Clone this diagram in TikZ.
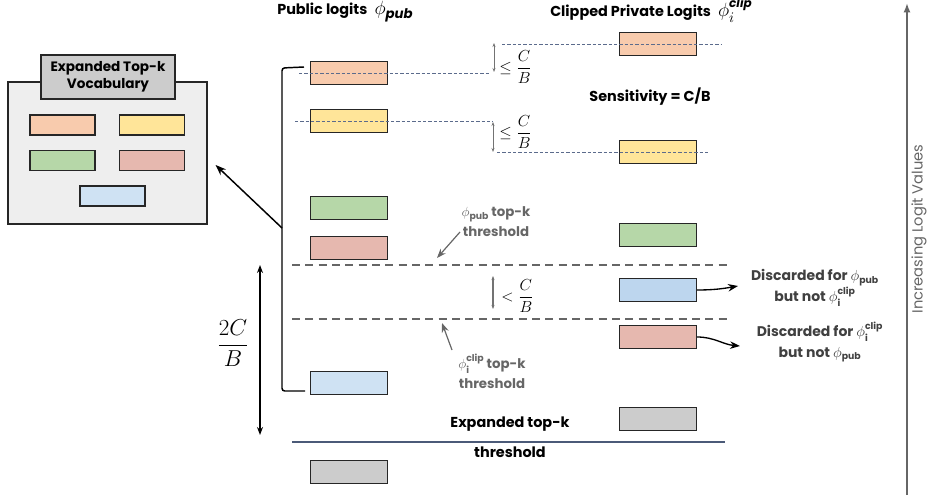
\documentclass[tikz,border=0pt]{standalone}
\usepackage{fontspec}
\setmainfont{Poppins}
\usepackage{xcolor}
\usepackage{tikz}
\usetikzlibrary{arrows.meta, positioning}

\definecolor{logitorange}{HTML}{F8CBAD}
\definecolor{logityellow}{HTML}{FFE599}
\definecolor{logitgreen}{HTML}{B6D7A8}
\definecolor{logitred}{HTML}{E6B8AF}
\definecolor{logitblue}{HTML}{CFE2F3}
\definecolor{logitblue2}{HTML}{BDD6EE}
\definecolor{logitgray}{HTML}{CCCCCC}
\definecolor{panelgray}{HTML}{EEEEEE}
\definecolor{guideblue}{HTML}{5B6B8C}
\definecolor{slateline}{HTML}{4B5A78}

\begin{document}
\begin{tikzpicture}[x=0.75pt, y=-0.75pt, font=\fontsize{10.8}{13}\selectfont\bfseries]

    % Define style for boxes
    \tikzstyle{logit} = [rectangle, minimum width=57.75pt, minimum height=17.25pt, inner sep=0pt, draw=black!85, line width=0.9pt]
    \tikzstyle{vocab} = [rectangle, minimum width=48.75pt, minimum height=15pt, inner sep=0pt, draw=black!85, line width=0.9pt]
    \tikzstyle{guide} = [draw=guideblue, dash pattern=on 2.5pt off 1.5pt, line width=0.5pt]
    \tikzstyle{cutline} = [draw=black!60, dash pattern=on 6pt off 4pt, line width=1.1pt]
    \tikzstyle{gap} = [draw=black!55, {Stealth[length=3pt]}-{Stealth[length=3pt]}, line width=0.5pt]
    \tikzstyle{note} = [text=black!60, align=center, inner sep=1pt, font=\fontsize{10}{15}\selectfont\bfseries]
    \tikzstyle{discard} = [text=black!75, align=center, inner sep=0pt, font=\fontsize{10.5}{15.5}\selectfont\bfseries]
    \tikzstyle{maths} = [font=\fontsize{13}{15}\selectfont, inner sep=0pt]

    \useasboundingbox (0,0) rectangle (928,499);

    % Headings
    \node (pubtitle) [anchor=base west, inner sep=0pt] at (277,15)
        {Public logits\enspace{\fontsize{15}{15}\selectfont$\phi_{\mbox{\fontsize{10}{10}\selectfont\bfseries\itshape pub}}$}};
    \node (privtitle) [anchor=base west, inner sep=0pt] at (550,17)
        {Clipped Private Logits\enspace{\fontsize{15}{15}\selectfont$\phi_i^{\mbox{\fontsize{9}{9}\selectfont\bfseries\itshape clip}}$}};

    % Expanded vocabulary panel
    \node (vocabbox) [rectangle, draw=black!85, fill=panelgray, line width=0.9pt, minimum width=149.25pt, minimum height=106.5pt] at (107.5,153) {};
    \node (vocabtab) [rectangle, draw=black!85, fill=logitgray, line width=0.9pt, minimum width=100.5pt, minimum height=33pt, align=center, inner sep=0pt, font=\fontsize{10.2}{12.5}\selectfont\bfseries] at (108,77) {Expanded Top-k\\Vocabulary};
    \node (vorange) [vocab, fill=logitorange] at (62.5,125) {};
    \node (vyellow) [vocab, fill=logityellow] at (152,125) {};
    \node (vgreen)  [vocab, fill=logitgreen]  at (62.5,160.5) {};
    \node (vred)    [vocab, fill=logitred]    at (152,160.5) {};
    \node (vblue)   [vocab, fill=logitblue]   at (112.5,196) {};

    % Public logits
    \node (puborange) [logit, fill=logitorange] at (349,73) {};
    \node (pubyellow) [logit, fill=logityellow] at (349,121) {};
    \node (pubgreen)  [logit, fill=logitgreen]  at (349,208) {};
    \node (pubred)    [logit, fill=logitred]    at (349,248) {};
    \node (pubblue)   [logit, fill=logitblue]   at (349,383) {};
    \node (pubgray)   [logit, fill=logitgray]   at (349,472) {};

    % Clipped private logits
    \node (privorange) [logit, fill=logitorange] at (658,44) {};
    \node (privyellow) [logit, fill=logityellow] at (658,152) {};
    \node (privgreen)  [logit, fill=logitgreen]  at (658,235) {};
    \node (privblue)   [logit, fill=logitblue2]  at (658,290) {};
    \node (privred)    [logit, fill=logitred]    at (658,337) {};
    \node (privgray)   [logit, fill=logitgray]   at (658,419) {};

    % Guide lines
    \draw[guide] (299,73) -- (490,73);
    \draw[guide] (502,44) -- (722,44);
    \draw[guide] (295,121) -- (493,121);
    \draw[guide] (497,152) -- (708,152);

    % Sensitivity gaps
    \coordinate (gaptop1) at (494,43);
    \coordinate (gapbot1) at (494,72);
    \coordinate (gaptop2) at (493,122);
    \coordinate (gapbot2) at (493,152);
    \coordinate (gaptop3) at (493,276);
    \coordinate (gapbot3) at (493,309);
    \draw[gap] (gaptop1) -- (gapbot1);
    \draw[gap] (gaptop2) -- (gapbot2);
    \draw[gap, line width=0.8pt] (gaptop3) -- (gapbot3);
    \node (le1) [maths, anchor=west] at (499,67) {$\leq\displaystyle\frac{C}{B}$};
    \node (le2) [maths, anchor=west] at (499,132) {$\leq\displaystyle\frac{C}{B}$};
    \node (lt3) [maths, anchor=west] at (501,296) {$<\displaystyle\frac{C}{B}$};
    \node (sens) at (650,97) {Sensitivity = C/B};

    % Thresholds
    \draw[cutline] (292,265) -- (727,265);
    \draw[cutline] (292,319) -- (727,319);
    \draw[slateline, line width=1.1pt] (292,442) -- (725,442);
    \node (exptop) at (510,424) {Expanded top-k};
    \node (expthr) at (510,452) {threshold};

    \node (pubthr) [note] at (496,222) {$\phi_{\mbox{\scriptsize pub}}$\,top-k\\threshold};
    \node (clipthr) [note] at (492,371) {$\phi_{\mbox{\scriptsize i}}^{\mbox{\scriptsize clip}}$\,top-k\\threshold};
    \coordinate (pubcut) at (437,258);
    \coordinate (clipcut) at (442,323);
    \draw[-Stealth, black!60, line width=0.9pt] (460,232) -- (pubcut);
    \draw[-Stealth, black!60, line width=0.9pt] (452,350) -- (clipcut);

    % Bracket and 2C/B span
    \draw[line width=1.1pt, rounded corners=2pt] (304,67) -- (282,68) -- (282,391) -- (305,391);
    \coordinate (bracketmid) at (282,228);
    \draw[-Stealth, line width=1.1pt] (bracketmid) -- ([shift={(8,12)}]vocabbox.east);
    \coordinate (spantop) at (260,265);
    \coordinate (spanbot) at (260,435);
    \draw[{Stealth[length=6pt]}-{Stealth[length=6pt]}, line width=1.1pt] (spantop) -- (spanbot);
    \node (span) [font=\fontsize{18}{20}\selectfont, inner sep=0pt] at (233,343) {$\displaystyle\frac{2C}{B}$};

    % Discarded tokens
    \node (disc1) [discard] at (815,288)
        {Discarded for $\phi_{\mbox{\scriptsize pub}}$\\but not $\phi_{\mbox{\scriptsize i}}^{\mbox{\scriptsize clip}}$};
    \node (disc2) [discard] at (820,342)
        {Discarded for $\phi_{\mbox{\scriptsize i}}^{\mbox{\scriptsize clip}}$\\but not $\phi_{\mbox{\scriptsize pub}}$};
    \coordinate (bluegone) at (738,286);
    \coordinate (redgone) at (740,346);
    \draw[-Stealth, line width=1pt] (privblue.east) to[out=0, in=190] (bluegone);
    \draw[-Stealth, line width=1pt] (privred.east) to[out=0, in=175] (redgone);

    % Logit axis
    \coordinate (axisbot) at (907,495);
    \coordinate (axistop) at (907,3);
    \draw[-{Latex[length=7pt]}, black!60, line width=1.5pt] (axisbot) -- (axistop);
    \node (axislabel) [rotate=90, text=black!60, font=\fontsize{11}{13}\selectfont] at (919,229) {Increasing Logit Values};

\end{tikzpicture}
\end{document}
